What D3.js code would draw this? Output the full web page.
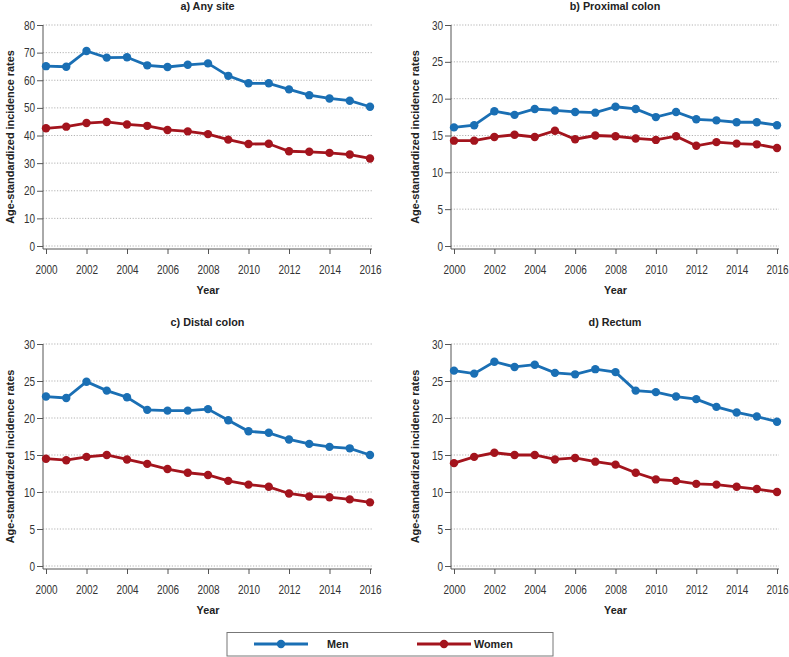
<!DOCTYPE html>
<html>
<head>
<meta charset="utf-8">
<script src="https://cdn.jsdelivr.net/npm/d3@7"></script>
<style>
  body { margin: 0; background: #fff; }
  svg { display: block; font-family: "Liberation Sans", Arial, sans-serif; }
  .grid line { stroke: #a0a0a0; stroke-dasharray: 1.2 1.6; stroke-width: 0.8; }
  .axis path, .axis line { stroke: #555; }
  .axis text { fill: #333; font-size: 12.5px; }
</style>
</head>
<body>
<svg id="chart" width="789" height="657"></svg>
<script>
const WIDTH = 789
const HEIGHT = 657
const NARROW = 0.8   // tick labels use a condensed face, squeeze Liberation Sans to match

const years = d3.range(2000, 2017)
const xTicks = [2000, 2002, 2004, 2006, 2008, 2010, 2012, 2014, 2016]

const titles = ['a) Any site', 'b) Proximal colon', 'c) Distal colon', 'd) Rectum']
const yMax = [80, 30, 30, 30]
const yTicks = [
    [0, 10, 20, 30, 40, 50, 60, 70, 80],
    [0, 5, 10, 15, 20, 25, 30],
    [0, 5, 10, 15, 20, 25, 30],
    [0, 5, 10, 15, 20, 25, 30]
]

// Men
const menAny = [65.1, 64.9, 70.6, 68.2, 68.3, 65.4, 64.8, 65.6, 66.1, 61.6, 58.9, 58.9, 56.7, 54.6, 53.4, 52.6, 50.4]
const menProximal = [16.1, 16.4, 18.3, 17.8, 18.6, 18.4, 18.2, 18.1, 18.9, 18.6, 17.5, 18.2, 17.2, 17.05, 16.8, 16.8, 16.4]
const menDistal = [22.9, 22.7, 24.9, 23.7, 22.8, 21.1, 21.0, 21.0, 21.2, 19.7, 18.2, 18.0, 17.1, 16.5, 16.1, 15.9, 15.0]
const menRectum = [26.4, 26.0, 27.6, 26.9, 27.2, 26.1, 25.9, 26.6, 26.2, 23.7, 23.5, 22.9, 22.55, 21.5, 20.75, 20.2, 19.5]

// Women
const womenAny = [42.6, 43.2, 44.5, 44.9, 44.0, 43.5, 42.0, 41.5, 40.5, 38.5, 36.9, 37.0, 34.3, 34.1, 33.7, 33.1, 31.7]
const womenProximal = [14.3, 14.3, 14.8, 15.1, 14.8, 15.65, 14.5, 15.0, 14.9, 14.6, 14.4, 14.9, 13.6, 14.1, 13.9, 13.8, 13.3]
const womenDistal = [14.5, 14.3, 14.75, 15.0, 14.4, 13.8, 13.1, 12.6, 12.3, 11.5, 11.0, 10.7, 9.8, 9.4, 9.3, 9.0, 8.6]
const womenRectum = [13.9, 14.75, 15.3, 15.0, 15.0, 14.4, 14.6, 14.1, 13.7, 12.6, 11.7, 11.5, 11.1, 11.0, 10.7, 10.4, 10.0]

const menSeries = [menAny, menProximal, menDistal, menRectum]
const womenSeries = [womenAny, womenProximal, womenDistal, womenRectum]

const seriesNames = ['Men', 'Women']
const colors = { Men: '#1a6fb4', Women: '#a3141d' }

// panel frames
const panels = [
    { axisX: 43, x0: 46, x1: 370, gridEnd: 372, top: 25, zero: 246, base: 249, titleY: 9.5, labelX: 13.5 },
    { axisX: 451, x0: 454, x1: 777, gridEnd: 779, top: 25, zero: 246, base: 249, titleY: 9.5, labelX: 418.5 },
    { axisX: 43, x0: 46, x1: 370, gridEnd: 372, top: 344, zero: 566, base: 569, titleY: 325.5, labelX: 13.5 },
    { axisX: 451, x0: 454, x1: 777, gridEnd: 779, top: 344, zero: 566, base: 569, titleY: 325.5, labelX: 418.5 }
]

const svg = d3.select('#chart')

function boldText(parent, text, x, y, anchor) {
    return parent.append('text')
        .text(text)
        .attr('x', x)
        .attr('y', y)
        .attr('text-anchor', anchor || 'middle')
        .attr('font-size', 10.8)
        .attr('font-weight', 'bold')
        .attr('fill', '#222')
}

panels.forEach((p, i) => {
    const g = svg.append('g')

    const xScale = d3.scaleLinear().domain([2000, 2016]).range([p.x0, p.x1])
    const yScale = d3.scaleLinear().domain([0, yMax[i]]).range([p.zero, p.top])

    // dotted gridlines
    g.append('g')
        .attr('class', 'grid')
        .selectAll('line')
        .data(yTicks[i])
        .join('line')
        .attr('x1', p.axisX)
        .attr('x2', p.gridEnd)
        .attr('y1', d => yScale(d))
        .attr('y2', d => yScale(d))

    // y axis
    const yAxis = g.append('g')
        .attr('class', 'axis')
        .attr('transform', `translate(${p.axisX},0)`)
        .call(d3.axisLeft(yScale).tickValues(yTicks[i]).tickSize(6).tickPadding(2).tickSizeOuter(0))
    yAxis.select('.domain').attr('d', `M0,${p.top}V${p.base}`)
    yAxis.selectAll('.tick text').attr('transform', `scale(${NARROW},1)`).attr('x', -8 / NARROW)

    // x axis
    const xAxis = g.append('g')
        .attr('class', 'axis')
        .attr('transform', `translate(0,${p.base})`)
        .call(d3.axisBottom(xScale).tickValues(xTicks).tickFormat(d3.format('d')).tickSize(5).tickPadding(11).tickSizeOuter(0))
    xAxis.select('.domain').attr('d', `M${p.axisX},0H${p.gridEnd}`)
    xAxis.selectAll('.tick text').attr('transform', `scale(${NARROW},1)`)

    // title, x label
    boldText(g, titles[i], (p.axisX + p.gridEnd) / 2, p.titleY)
    boldText(g, 'Year', (p.x0 + p.x1) / 2, p.base + 45)

    // y label
    g.append('text')
        .text('Age-standardized incidence rates')
        .attr('transform', `translate(${p.labelX},${(p.top + p.base) / 2}) rotate(-90)`)
        .attr('text-anchor', 'middle')
        .attr('font-size', 10.9)
        .attr('font-weight', 'bold')
        .attr('fill', '#222')

    const line = d3.line()
        .x((d, j) => xScale(years[j]))
        .y(d => yScale(d))

    const data = [
        { name: 'Men', values: menSeries[i] },
        { name: 'Women', values: womenSeries[i] }
    ]

    g.selectAll('path.series')
        .data(data)
        .join('path')
        .attr('class', 'series')
        .attr('fill', 'none')
        .attr('stroke', d => colors[d.name])
        .attr('stroke-width', 2.8)
        .attr('d', d => line(d.values))

    data.forEach(s => {
        g.append('g')
            .selectAll('circle')
            .data(s.values)
            .join('circle')
            .attr('cx', (d, j) => xScale(years[j]))
            .attr('cy', d => yScale(d))
            .attr('r', 4.2)
            .attr('fill', colors[s.name])
    })
})

// legend
const legend = svg.append('g')
legend.append('rect')
    .attr('x', 227)
    .attr('y', 632.5)
    .attr('width', 326)
    .attr('height', 23.5)
    .attr('fill', '#fff')
    .attr('stroke', '#777')
    .attr('stroke-width', 1)

const legendX = d3.scalePoint().domain(seriesNames).range([254, 417])
const legendY = 644

seriesNames.forEach(name => {
    const lx = legendX(name)
    legend.append('line')
        .attr('x1', lx)
        .attr('x2', lx + 54)
        .attr('y1', legendY)
        .attr('y2', legendY)
        .attr('stroke', colors[name])
        .attr('stroke-width', 2.8)
    legend.append('circle')
        .attr('cx', lx + 27)
        .attr('cy', legendY)
        .attr('r', 4.2)
        .attr('fill', colors[name])
    boldText(legend, name, name === 'Men' ? lx + 73 : lx + 57, legendY + 4, 'start')
})
</script>
</body>
</html>
